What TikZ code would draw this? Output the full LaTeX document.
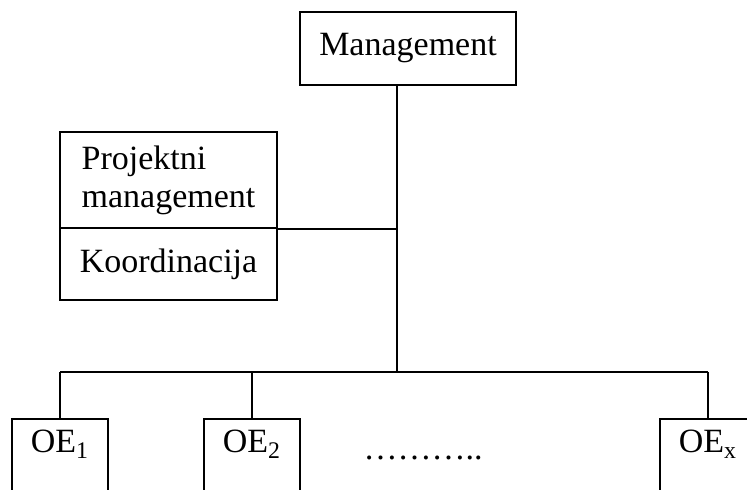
\documentclass[tikz,border=0pt]{standalone}
\usepackage{fontspec}
\setmainfont{Liberation Serif}
\begin{document}
\begin{tikzpicture}[x=0.5pt,y=-0.5pt,line width=0.8pt,
  box/.style={draw,rectangle,inner sep=0pt,font=\fontsize{17}{19}\selectfont},
  oe/.style={box,anchor=north,minimum width=48pt,text height=17pt,text depth=40pt}]
\useasboundingbox (0,0) rectangle (747,489);
\clip (0,0) rectangle (747,489);
\node[box,minimum width=108pt,minimum height=36.5pt] (mgmt) at (408,48.5) {Management};
\node[box,minimum width=108.5pt,minimum height=48pt,align=left] (proj) at (168.5,180) {Projektni\\management};
\node[box,minimum width=108.5pt,minimum height=36pt] (koord) at (168.5,264) {Koordinacija};
\coordinate (j1) at (proj.south east -| 397,0);
\coordinate (j2) at (397,372);
\coordinate (l) at (60,372);
\coordinate (r) at (708,372);
\node[oe] (oe1) at (60,418) {OE\textsubscript{1}};
\node[oe] (oe2) at (252,418) {OE\textsubscript{2}};
\node[oe] (oex) at (708,418) {OE\textsubscript{x}};
\node[font=\fontsize{17}{19}\selectfont] (dots) at (423,458) {………..};
\path[draw] (mgmt.south -| j2) -- (j2);
\path[draw] (proj.south east) -- (j1);
\path[draw] (l) -- (r);
\path[draw] (l) -- (oe1);
\path[draw] (oe2 |- l) -- (oe2);
\path[draw] (r) -- (oex);
\end{tikzpicture}
\end{document}
